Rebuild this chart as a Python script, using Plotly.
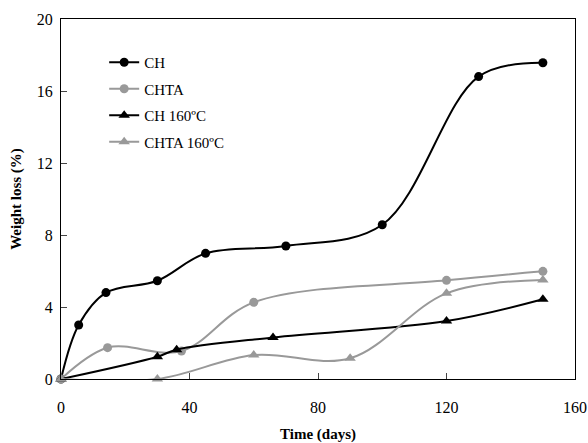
import plotly.graph_objects as go

ch_x = [0, 5.5, 14, 30, 45, 70, 100, 130, 150]
ch_y = [0, 3.0, 4.8, 5.46, 6.98, 7.39, 8.57, 16.8, 17.57]

chta_x = [0, 14.5, 37.5, 60, 120, 150]
chta_y = [0, 1.74, 1.55, 4.26, 5.48, 5.98]

ch160_x = [0, 30, 36, 66, 120, 150]
ch160_y = [0, 1.24, 1.63, 2.31, 3.22, 4.43]

chta160_x = [0, 30, 60, 90, 120, 150]
chta160_y = [0, 0, 1.33, 1.15, 4.76, 5.5]

x_ticks = [0, 40, 80, 120, 160]
y_ticks = [0, 4, 8, 12, 16, 20]

BLACK = "#000000"
GRAY = "#999999"
FONT = "Liberation Serif, Times New Roman, serif"

series = [
    ("CH", ch_x, ch_y, BLACK, "circle", 9),
    ("CHTA", chta_x, chta_y, GRAY, "circle", 9),
    ("CH 160ºC", ch160_x, ch160_y, BLACK, "triangle-up", 10),
    ("CHTA 160ºC", chta160_x, chta160_y, GRAY, "triangle-up", 10),
]

fig = go.Figure()
for i, (name, xs, ys, col, sym, sz) in enumerate(series):
    fig.add_trace(go.Scatter(
        x=xs, y=ys, name=name, mode="lines+markers",
        line=dict(color=col, width=2, shape="spline", smoothing=1),
        marker=dict(color=col, symbol=sym, size=sz),
        legendgroup=f"g{i}", cliponaxis=False,
    ))

fig.update_layout(
    width=588, height=443,
    margin=dict(l=61, r=13, t=19, b=64),
    paper_bgcolor="white", plot_bgcolor="white",
    font=dict(family=FONT, size=16, color="black"),
    showlegend=True,
    legend=dict(x=0.084, y=0.925, xanchor="left", yanchor="top",
                bgcolor="rgba(0,0,0,0)", font=dict(family=FONT, size=15),
                tracegroupgap=4, itemwidth=30),
    xaxis=dict(range=[0, 160], tickvals=x_ticks, ticks="inside", ticklen=6,
               showgrid=False, zeroline=False, showline=True, linecolor="black",
               linewidth=1, mirror=True, ticklabelstandoff=14, automargin=False,
               tickfont=dict(size=16),
               title=dict(text="<b>Time (days)</b>", font=dict(size=15), standoff=18)),
    yaxis=dict(range=[0, 20], tickvals=y_ticks, ticks="inside", ticklen=6,
               showgrid=False, zeroline=False, showline=True, linecolor="black",
               linewidth=1, mirror=True, ticklabelstandoff=4, automargin=False,
               tickfont=dict(size=16),
               title=dict(text="<b>Weight loss (%)</b>", font=dict(size=15), standoff=11)),
)

fig.write_html("out.html", config={"displayModeBar": False},
               post_script="document.body.style.margin='0';")
